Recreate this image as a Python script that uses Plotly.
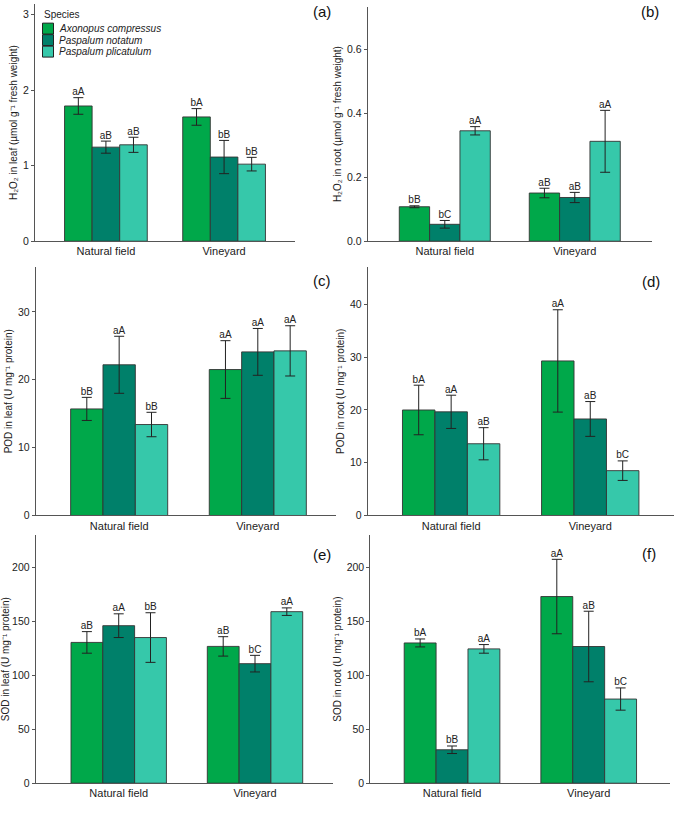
import plotly.graph_objects as go

W, H = 677, 818

sites = ["Natural field", "Vineyard"]
species = ["Axonopus compressus", "Paspalum notatum", "Paspalum plicatulum"]
species_colors = ["#00A84A", "#00806A", "#36C8AA"]
legend_title = "Species"

# values: rows = species, cols = sites
h2o2_leaf_mean = [[1.79, 1.645], [1.245, 1.114], [1.276, 1.02]]
h2o2_leaf_err = [[0.11, 0.11], [0.08, 0.22], [0.10, 0.09]]
h2o2_leaf_letters = [["aA", "bA"], ["aB", "bB"], ["aB", "bB"]]

h2o2_root_mean = [[0.108, 0.151], [0.053, 0.137], [0.346, 0.313]]
h2o2_root_err = [[0.003, 0.015], [0.012, 0.016], [0.013, 0.097]]
h2o2_root_letters = [["bB", "aB"], ["bC", "aB"], ["aA", "aA"]]

pod_leaf_mean = [[15.7, 21.5], [22.2, 24.1], [13.4, 24.25]]
pod_leaf_err = [[1.7, 4.25], [4.2, 3.45], [1.8, 3.7]]
pod_leaf_letters = [["bB", "aA"], ["aA", "aA"], ["bB", "aA"]]

pod_root_mean = [[20.0, 29.3], [19.65, 18.3], [13.6, 8.5]]
pod_root_err = [[4.7, 9.7], [3.15, 3.3], [3.05, 1.85]]
pod_root_letters = [["bA", "aA"], ["aA", "aB"], ["aB", "bC"]]

sod_leaf_mean = [[130.5, 126.8], [146.0, 110.8], [135.0, 159.0]]
sod_leaf_err = [[10.0, 9.0], [11.0, 7.7], [23.0, 3.5]]
sod_leaf_letters = [["aB", "aB"], ["aA", "bC"], ["bB", "aA"]]

sod_root_mean = [[130.0, 173.0], [31.0, 126.7], [124.5, 78.0]]
sod_root_err = [[3.7, 34.5], [3.5, 32.7], [4.0, 10.3]]
sod_root_letters = [["bA", "aA"], ["bB", "aB"], ["aA", "bC"]]

panel_tags = ["(a)", "(b)", "(c)", "(d)", "(e)", "(f)"]
y_titles = [
    "H\u2082O\u2082 in leaf (µmol g\u207b\u00b9 fresh weight)",
    "H\u2082O\u2082 in root (µmol g\u207b\u00b9 fresh weight)",
    "POD in leaf (U mg\u207b\u00b9 protein)",
    "POD in root (U mg\u207b\u00b9 protein)",
    "SOD in leaf (U mg\u207b\u00b9 protein)",
    "SOD in root (U mg\u207b\u00b9 protein)",
]

panels = [
    (h2o2_leaf_mean, h2o2_leaf_err, h2o2_leaf_letters),
    (h2o2_root_mean, h2o2_root_err, h2o2_root_letters),
    (pod_leaf_mean, pod_leaf_err, pod_leaf_letters),
    (pod_root_mean, pod_root_err, pod_root_letters),
    (sod_leaf_mean, sod_leaf_err, sod_leaf_letters),
    (sod_root_mean, sod_root_err, sod_root_letters),
]

# layout in pixels: (x0, x1, ytop, ybottom)
boxes = [
    (35, 295, 4, 243),
    (367.7, 652, 7, 243),
    (35.7, 336, 269, 519.3),
    (367.7, 673.7, 269, 519.3),
    (35.7, 332.7, 539, 789),
    (370.3, 670.3, 539, 789),
]
x_ranges = [[-0.6, 1.6], [-0.593, 1.594], [-0.602, 1.564], [-0.6, 1.6], [-0.609, 1.57], [-0.598, 1.597]]
y_ranges = [[0, 3.14], [0, 0.734], [0, 36.6], [0, 47.1], [0, 230], [0, 230]]
y_dticks = [1, 0.2, 10, 10, 50, 50]
y_formats = ["d", ".1f", "d", "d", "d", "d"]
tag_pos = [(322, 12), (650, 12), (322, 283), (651, 284), (322, 559), (649, 558)]

FONT = "Liberation Sans, Arial, sans-serif"
group_width = 0.7
bw = group_width / len(species)

fig = go.Figure()
layout = {}
annotations = []
shapes = []

for p, (means, errs, letters) in enumerate(panels):
    ax = "" if p == 0 else str(p + 1)
    xref, yref = "x" + ax, "y" + ax
    for s, name in enumerate(species):
        xs = [i + (s - (len(species) - 1) / 2) * bw for i in range(len(sites))]
        fig.add_trace(go.Bar(
            x=xs, y=means[s], width=bw, name=name,
            marker=dict(color=species_colors[s], line=dict(color="#333333", width=0.9)),
            error_y=dict(type="data", array=errs[s], color="#222222", thickness=1, width=5),
            xaxis=xref, yaxis=yref, showlegend=False, legendgroup=name,
            hoverinfo="skip",
        ))
        fig.add_trace(go.Scatter(
            x=xs, y=[m + e for m, e in zip(means[s], errs[s])],
            text=letters[s], mode="text", textposition="top center",
            textfont=dict(size=10, color="#222222", family=FONT),
            xaxis=xref, yaxis=yref, showlegend=False, hoverinfo="skip",
        ))
    x0, x1, yt, yb = boxes[p]
    layout["xaxis" + ax] = dict(
        domain=[x0 / W, x1 / W], range=x_ranges[p], anchor=yref,
        tickvals=list(range(len(sites))), ticktext=sites, ticks="",
        showline=True, linecolor="#555555", linewidth=1, showgrid=False, zeroline=False,
        tickfont=dict(size=11, color="#222222", family=FONT), fixedrange=True,
    )
    layout["yaxis" + ax] = dict(
        domain=[1 - yb / H, 1 - yt / H], range=y_ranges[p], anchor=xref,
        dtick=y_dticks[p], tick0=0, tickformat=y_formats[p],
        ticks="outside", ticklen=3, tickcolor="#555555",
        showline=True, linecolor="#555555", linewidth=1, showgrid=False, zeroline=False,
        tickfont=dict(size=10.5, color="#222222", family=FONT),
        title=dict(text=y_titles[p], font=dict(size=10, color="#222222", family=FONT), standoff=3),
    )
    tx, ty = tag_pos[p]
    annotations.append(dict(
        text=panel_tags[p], x=tx / W, y=1 - ty / H, xref="paper", yref="paper",
        showarrow=False, xanchor="center", yanchor="middle",
        font=dict(size=15, color="#111111", family=FONT),
    ))

# legend block (drawn in panel a's top-left corner)
leg_left, leg_title_y, row0_y, row_h, sw = 42, 15, 28.8, 11.6, 11
annotations.append(dict(
    text=legend_title, x=leg_left / W, y=1 - leg_title_y / H, xref="paper", yref="paper",
    showarrow=False, xanchor="left", yanchor="middle",
    font=dict(size=10, color="#222222", family=FONT),
))
for s, name in enumerate(species):
    cy = row0_y + s * row_h
    shapes.append(dict(
        type="rect", xref="paper", yref="paper",
        x0=(leg_left + 0.5) / W, x1=(leg_left + 0.5 + sw) / W,
        y0=1 - (cy - sw / 2) / H, y1=1 - (cy + sw / 2) / H,
        fillcolor=species_colors[s], line=dict(color="#222222", width=1),
    ))
    annotations.append(dict(
        text="<i>" + name + "</i>", x=(leg_left + sw + 4) / W, y=1 - cy / H,
        xref="paper", yref="paper", showarrow=False, xanchor="left", yanchor="middle",
        font=dict(size=10, color="#222222", family=FONT),
    ))

fig.update_layout(
    width=W, height=H, margin=dict(l=0, r=0, t=0, b=0),
    paper_bgcolor="white", plot_bgcolor="white",
    barmode="overlay", annotations=annotations, shapes=shapes,
    font=dict(family=FONT, color="#222222"),
    showlegend=False,
    **layout,
)

fig.write_html("out.html")
